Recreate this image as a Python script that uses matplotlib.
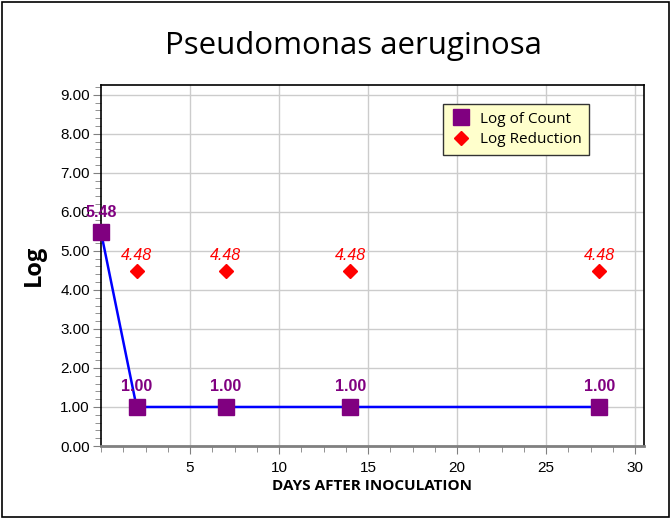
import numpy as np
import matplotlib
matplotlib.use("Agg")
import matplotlib.pyplot as plt
from matplotlib.ticker import MultipleLocator, FormatStrFormatter
from matplotlib.patches import Rectangle

days = [0, 2, 7, 14, 28]
log_count = [5.48, 1.00, 1.00, 1.00, 1.00]
red_days = [2, 7, 14, 28]
log_reduction = [4.48, 4.48, 4.48, 4.48]

title = "Pseudomonas aeruginosa"
xlabel = "DAYS AFTER INOCULATION"
ylabel = "Log"

plt.rcParams['font.family'] = ['Liberation Sans', 'DejaVu Sans']

fig = plt.figure(figsize=(6.71, 5.19), dpi=100)
ax = fig.add_axes([101 / 671, 1 - 446 / 519, (644 - 101) / 671, (446 - 85) / 519])

# figure border
fig.patches.append(Rectangle((2 / 671, 2 / 519), 667 / 671, 515 / 519, transform=fig.transFigure,
                             fill=False, edgecolor='black', linewidth=1.2))

ax.plot(days, log_count, color='#0000ff', linewidth=1.8, marker='s', markersize=11,
        markerfacecolor='#800080', markeredgecolor='#800080', label='Log of Count',
        zorder=3, clip_on=False)
ax.plot(red_days, log_reduction, linestyle='none', marker='D', markersize=7,
        color='#ff0000', label='Log Reduction', zorder=3)

for x, y in zip(days, log_count):
    ax.annotate(f"{y:.2f}", (x, y), xytext=(0, 9), textcoords='offset points',
                ha='center', va='bottom', color='#800080', fontweight='bold', fontsize=11.5)
for x, y in zip(red_days, log_reduction):
    ax.annotate(f"{y:.2f}", (x, y), xytext=(0, 6), textcoords='offset points',
                ha='center', va='bottom', color='#ff0000', fontstyle='italic', fontsize=11.5)

ax.set_xlim(0, 30.5)
ax.set_ylim(0, 9.25)
ax.xaxis.set_major_locator(MultipleLocator(5))
ax.xaxis.set_minor_locator(MultipleLocator(1.25))
ax.yaxis.set_major_locator(MultipleLocator(1))
ax.yaxis.set_minor_locator(MultipleLocator(0.2))
ax.yaxis.set_major_formatter(FormatStrFormatter('%.2f'))
ax.set_xticks([5, 10, 15, 20, 25, 30])

ax.grid(True, which='major', color='#cccccc', linewidth=1)
ax.set_axisbelow(True)

ax.tick_params(axis='both', which='major', direction='out', length=6, color='#808080',
               labelsize=11, pad=2)
ax.tick_params(axis='x', which='major', pad=5)
ax.tick_params(axis='both', which='minor', direction='out', length=4, color='#808080')

for s in ['top', 'right', 'left']:
    ax.spines[s].set_color('black')
    ax.spines[s].set_linewidth(1.2)
ax.spines['bottom'].set_color('#808080')
ax.spines['bottom'].set_linewidth(2)

ax.set_xlabel(xlabel, fontweight='bold', fontsize=11, family=['Open Sans', 'DejaVu Sans'], labelpad=3)
ax.set_ylabel(ylabel, fontweight='bold', fontsize=17, family=['Open Sans', 'DejaVu Sans'], labelpad=10)

fig.text(353 / 671, 1 - 46 / 519, title, ha='center', va='center', fontsize=22.5,
         family=['Open Sans', 'DejaVu Sans'])

leg = ax.legend(loc='upper left', bbox_to_anchor=((443 - 101) / 543, (446 - 104) / 361),
                frameon=True, fancybox=False, handletextpad=0.6,
                borderpad=0.5, labelspacing=0.35, handlelength=1.3, borderaxespad=0,
                prop={'family': ['Open Sans', 'DejaVu Sans'], 'size': 11})
leg.get_frame().set_facecolor('#ffffcc')
leg.get_frame().set_edgecolor('#333333')
leg.get_frame().set_alpha(1)
for h in leg.legend_handles:
    h.set_linestyle('none')

fig.savefig("out.png", dpi=100)
